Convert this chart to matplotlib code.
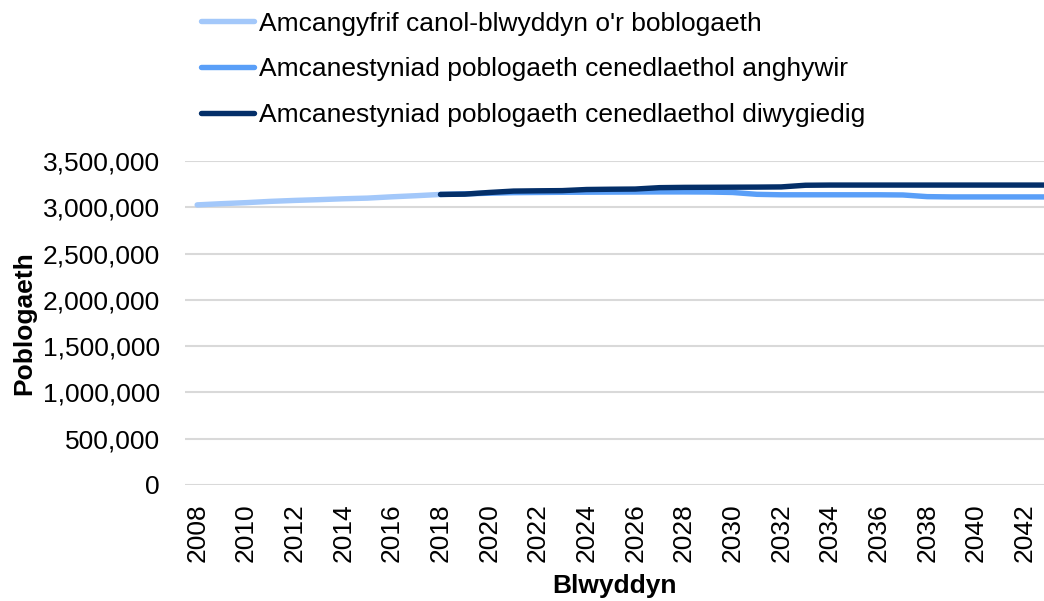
import numpy as np
import matplotlib.pyplot as plt
from matplotlib.ticker import FuncFormatter

plt.rcParams['font.family'] = ['Liberation Sans', 'DejaVu Sans']

# mid-year estimates
hist_years = list(range(2008, 2019))
hist_pop = [3025900, 3038900, 3050000, 3063800, 3074100, 3082400,
            3092000, 3099100, 3113200, 3125200, 3138600]

# projections
proj_years = list(range(2018, 2044))
proj_wrong = [3138600, 3145000, 3152000, 3158000, 3160000, 3162000,
              3163000, 3164000, 3165000, 3166000, 3166000, 3165000,
              3160000, 3140000, 3135000, 3135000, 3135000, 3135000,
              3135000, 3133000, 3115000, 3112000, 3112000, 3112000,
              3112000, 3112000]
proj_revised = [3138600, 3142000, 3160000, 3175000, 3178000, 3180000,
                3192000, 3195000, 3197000, 3212000, 3215000, 3216000,
                3217000, 3218000, 3220000, 3238000, 3240000, 3240000,
                3240000, 3240000, 3240000, 3240000, 3240000, 3240000,
                3240000, 3240000]

labels = ["Amcangyfrif canol-blwyddyn o'r boblogaeth",
          "Amcanestyniad poblogaeth cenedlaethol anghywir",
          "Amcanestyniad poblogaeth cenedlaethol diwygiedig"]
colors = ['#A3C8FA', '#5A9FF8', '#042F69']

fs = 19
fig = plt.figure(figsize=(10.44, 6.01), dpi=100)
ax = fig.add_axes([185/1044, 1-485/601, 1-185/1044, (485-161)/601])

lw = 3.9
ax.plot(hist_years, hist_pop, color=colors[0], lw=lw, solid_capstyle='round', label=labels[0])
ax.plot(proj_years, proj_wrong, color=colors[1], lw=lw, solid_capstyle='round', label=labels[1])
ax.plot(proj_years, proj_revised, color=colors[2], lw=lw, solid_capstyle='round', label=labels[2])

ax.set_ylim(0, 3500000)
ax.set_xlim(2007.5, 2042.8)
ax.set_yticks(np.arange(0, 3500001, 500000))
ax.yaxis.set_major_formatter(FuncFormatter(lambda v, p: f'{int(v):,}'))
ax.set_xticks(range(2008, 2043, 2))
ax.tick_params(axis='y', length=0, pad=18, labelsize=fs)
ax.tick_params(axis='x', length=0, pad=13, labelsize=fs, labelrotation=90)
for s in ax.spines.values():
    s.set_visible(False)
ax.grid(axis='y', color='#D9D9D9', lw=1.5)
ax.set_axisbelow(True)

ax.set_ylabel('Poblogaeth', fontsize=fs, fontweight='bold', labelpad=5)
ax.set_xlabel('Blwyddyn', fontsize=fs, fontweight='bold', labelpad=9)

fig.legend(loc='upper left', bbox_to_anchor=(177/1044, 1.02), frameon=False,
           fontsize=fs, handlelength=2.0, handletextpad=0.2, labelspacing=0.82)

fig.savefig('out.png', dpi=100)
